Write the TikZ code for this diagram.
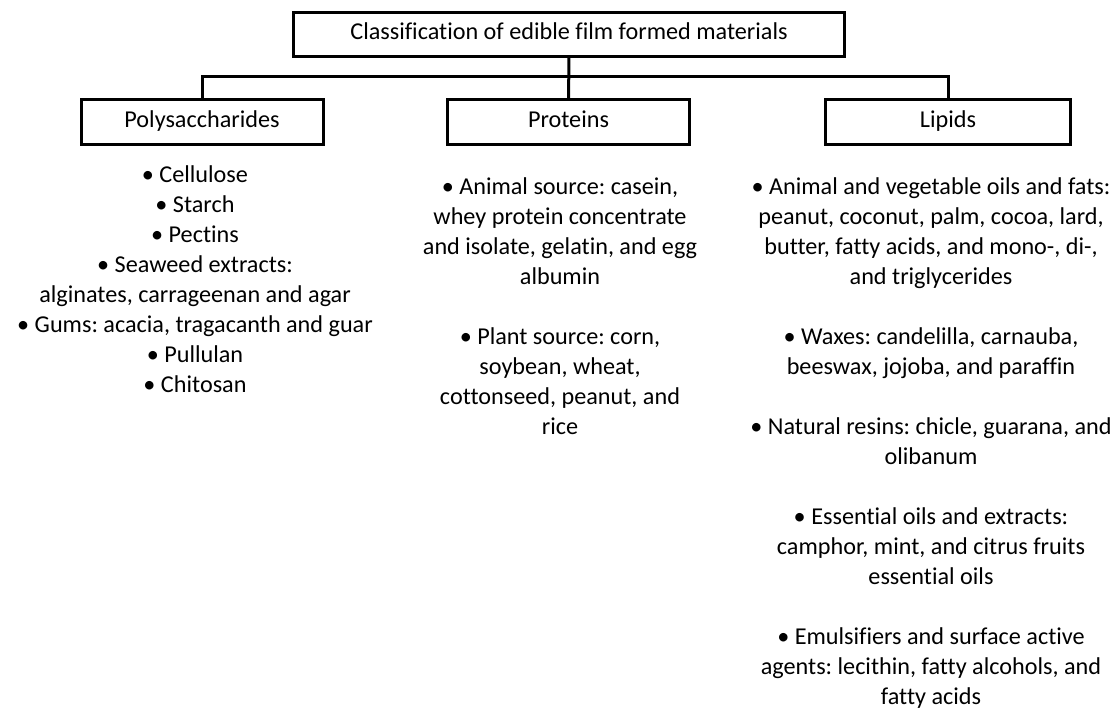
\documentclass[tikz,border=0pt]{standalone}
\usepackage{fontspec}
\setmainfont[Ligatures=NoCommon]{Carlito}
\frenchspacing
\tikzset{
    every node/.style={font=\fontsize{24.2}{30}\selectfont, align=center}
}
\tikzset{
    box/.style={draw, line width=3pt, minimum width=242pt, minimum height=45pt,
    	inner sep=0pt, text height=11pt, text depth=0pt}
}
\tikzset{
    list/.style={anchor=north, inner sep=0pt}
}
\tikzset{
    every path/.append style={line width=3pt}
}

\begin{document}
\begin{tikzpicture}[x=1pt,y=-1pt]
	\useasboundingbox (0,0) rectangle (1114,711);
	\node [box, minimum width=551pt, minimum height=44pt] (title) at (569,34.5)
		{Classification of edible film formed materials};
	\node [box] (poly) at (202,122) {Polysaccharides};
	\node [box] (prot) at (568.5,122) {Proteins};
	\node [box, minimum width=245pt] (lip) at (948,122) {Lipids};
	\coordinate (bus) at (0,77);
	\draw (title) -- (prot);
	\draw (poly.north) -- (poly.north |- bus) -- (lip.north |- bus) -- (lip.north);
	\node [list] (polylist) at (195,164) {• Cellulose\\ • Starch\\ • Pectins\\
		• Seaweed extracts:\\ alginates, carrageenan and agar\\
		• Gums: acacia, tragacanth and guar\\ • Pullulan\\ • Chitosan};
	\node [list] (protlist) at (560,176) {• Animal source: casein,\\
		whey protein concentrate\\ and isolate, gelatin, and egg\\ albumin\\[30pt]
		• Plant source: corn,\\ soybean, wheat,\\ cottonseed, peanut, and\\ rice};
	\node [list] (liplist) at (931,176) {• Animal and vegetable oils and fats:\\
		peanut, coconut, palm, cocoa, lard,\\ butter, fatty acids, and mono-, di-,\\
		and triglycerides\\[30pt]
		• Waxes: candelilla, carnauba,\\ beeswax, jojoba, and paraffin\\[30pt]
		• Natural resins: chicle, guarana, and\\ olibanum\\[30pt]
		• Essential oils and extracts:\\ camphor, mint, and citrus fruits\\
		essential oils\\[30pt]
		• Emulsifiers and surface active\\ agents: lecithin, fatty alcohols, and\\
		fatty acids};
\end{tikzpicture}
\end{document}
